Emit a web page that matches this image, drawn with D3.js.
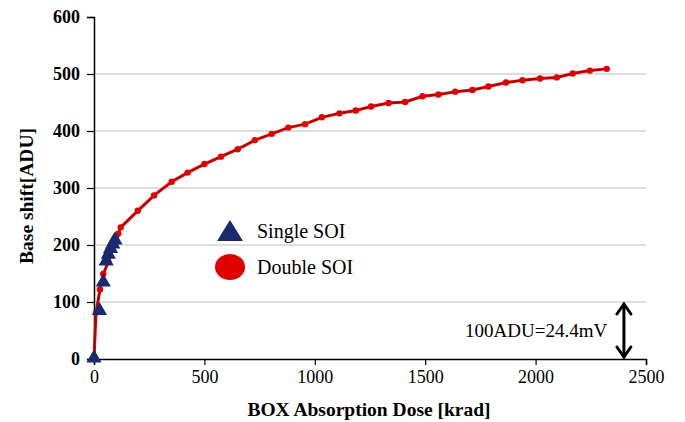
<!DOCTYPE html>
<html>
<head>
<meta charset="utf-8">
<script src="https://cdn.jsdelivr.net/npm/d3@7"></script>
<style>
  body { margin: 0; background: #fff; }
</style>
</head>
<body>
<svg id="chart" width="685" height="422"></svg>
<script>
// Single SOI (triangles), dose [krad] and shift [ADU]
const singleDose = [0, 25, 42, 55, 65, 75, 85, 95];
const singleShift = [0, 83, 133, 170, 182, 192, 200, 207];

// Double SOI (red line + dots)
const doubleDose = [0, 9, 27, 42, 65, 100, 110, 121, 198, 272, 352, 424, 500, 575, 651, 729, 805, 880,
    956, 1032, 1112, 1186, 1255, 1334, 1409, 1488, 1560, 1636, 1714, 1786, 1866, 1941, 2020, 2096,
    2168, 2246, 2322];
const doubleShift = [0, 81, 122, 149, 171, 215, 220, 231, 260, 287, 311, 327, 342, 355, 368, 384, 395, 406,
    412, 424, 431, 436, 443, 449, 451, 461, 464, 469, 472, 478, 485, 489, 492, 494,
    501, 506, 509];

const xTicks = [0, 500, 1000, 1500, 2000, 2500];
const yTicks = [0, 100, 200, 300, 400, 500, 600];
const gridTicks = [100, 200, 300, 400, 500];
const legendLabels = ["Single SOI", "Double SOI"];
const scaleNote = "100ADU=24.4mV";
const scaleArrow = { dose: 2400, from: 0, to: 100 };

const FONT = "Liberation Serif";
const svg = d3.select("#chart").attr("font-family", FONT);
const margin = { top: 17, right: 39, bottom: 63, left: 94 };
const width = 685, height = 422;

const x = d3.scaleLinear().domain([0, 2500]).range([margin.left, width - margin.right]);
const y = d3.scaleLinear().domain([0, 600]).range([height - margin.bottom, margin.top]);

/***
 * gridlines
 */
svg.append("g")
    .selectAll("line")
    .data(gridTicks)
    .join("line")
    .attr("x1", x(0))
    .attr("x2", x(2500))
    .attr("y1", d => y(d))
    .attr("y2", d => y(d))
    .attr("stroke", "#bdbdbd")
    .attr("stroke-width", 1);

/***
 * axes
 */
const xAxis = svg.append("g")
    .attr("transform", "translate(0," + y(0) + ")")
    .call(d3.axisBottom(x).tickValues(xTicks).tickSize(6).tickPadding(5).tickFormat(d3.format("d")));
xAxis.attr("font-family", FONT);
xAxis.select(".domain").attr("stroke", "#000").attr("stroke-width", 1.5);
xAxis.selectAll(".tick line").attr("stroke", "#000").attr("stroke-width", 1.2);
xAxis.selectAll("text")
    .attr("font-family", FONT)
    .attr("font-size", 18)
    .attr("fill", "#000");

const yAxis = svg.append("g")
    .attr("transform", "translate(" + x(0) + ",0)")
    .call(d3.axisLeft(y).tickValues(yTicks).tickSize(7).tickPadding(7).tickFormat(d3.format("d")));
yAxis.attr("font-family", FONT);
yAxis.select(".domain").attr("stroke", "#000").attr("stroke-width", 1.5);
yAxis.selectAll(".tick line").attr("stroke", "#000").attr("stroke-width", 1.2);
yAxis.selectAll("text")
    .attr("font-family", FONT)
    .attr("font-size", 18)
    .attr("font-weight", "bold")
    .attr("fill", "#000");

// axis titles
svg.append("text")
    .attr("x", 369)
    .attr("y", 416)
    .attr("text-anchor", "middle")
    .attr("font-family", FONT)
    .attr("font-size", 19.5)
    .attr("font-weight", "bold")
    .text("BOX Absorption Dose [krad]");

svg.append("text")
    .attr("transform", "translate(33,196) rotate(-90)")
    .attr("text-anchor", "middle")
    .attr("font-family", FONT)
    .attr("font-size", 19.5)
    .attr("font-weight", "bold")
    .text("Base shift[ADU]");

/***
 * Double SOI
 */
const doubleData = doubleDose.map((d, i) => ({ x: d, y: doubleShift[i] }));
const line = d3.line().x(d => x(d.x)).y(d => y(d.y));

svg.append("path")
    .datum(doubleData)
    .attr("d", line)
    .attr("fill", "none")
    .attr("stroke", "#e00000")
    .attr("stroke-width", 3);
svg.append("path")
    .datum(doubleData)
    .attr("d", line)
    .attr("fill", "none")
    .attr("stroke", "#7a0000")
    .attr("stroke-width", 0.8);

svg.append("g")
    .selectAll("circle")
    .data(doubleData)
    .join("circle")
    .attr("cx", d => x(d.x))
    .attr("cy", d => y(d.y))
    .attr("r", 3.2)
    .attr("fill", "#e00000");

/***
 * Single SOI
 */
const singleData = singleDose.map((d, i) => ({ x: d, y: singleShift[i] }));
svg.append("g")
    .selectAll("path")
    .data(singleData)
    .join("path")
    .attr("transform", d => "translate(" + x(d.x) + "," + (y(d.y) - 1) + ")")
    .attr("d", d3.symbol().type(d3.symbolTriangle).size(100))
    .attr("fill", "#1b2a6e");

/***
 * legend
 */
const legend = svg.append("g");
legend.append("path")
    .attr("d", "M230,220 L243,241 L217,241 Z")
    .attr("fill", "#1b2a6e");
legend.append("ellipse")
    .attr("cx", 230)
    .attr("cy", 267)
    .attr("rx", 15)
    .attr("ry", 13)
    .attr("fill", "#e00000");
legend.selectAll("text")
    .data(legendLabels)
    .join("text")
    .attr("x", 257)
    .attr("y", (d, i) => 238 + i * 36)
    .attr("font-family", FONT)
    .attr("font-size", 20)
    .text(d => d);

/***
 * scale note and arrow
 */
svg.append("text")
    .attr("x", 465)
    .attr("y", 337)
    .attr("font-family", FONT)
    .attr("font-size", 19)
    .text(scaleNote);

const ax = x(scaleArrow.dose);
const yTop = y(scaleArrow.to) + 2, yBot = y(scaleArrow.from) - 2;
const arrow = svg.append("g")
    .attr("stroke", "#000")
    .attr("stroke-width", 3)
    .attr("fill", "none")
    .attr("stroke-linecap", "round");
arrow.append("line").attr("x1", ax).attr("x2", ax).attr("y1", yTop).attr("y2", yBot);
arrow.append("path").attr("d", `M${ax - 7},${yTop + 10} L${ax},${yTop} L${ax + 7},${yTop + 10}`);
arrow.append("path").attr("d", `M${ax - 7},${yBot - 10} L${ax},${yBot} L${ax + 7},${yBot - 10}`);
</script>
</body>
</html>
